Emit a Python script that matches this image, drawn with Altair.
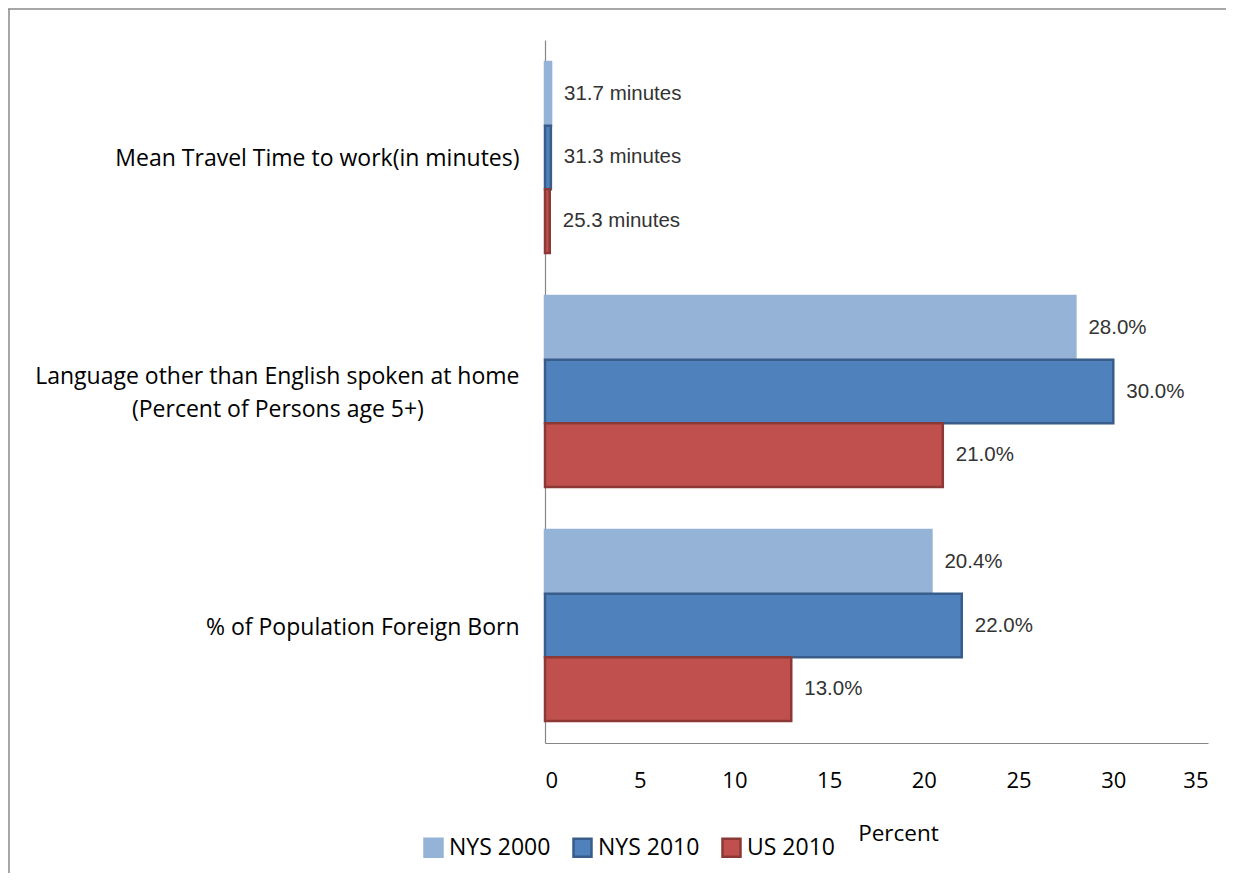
import altair as alt
import pandas as pd

categories = [
    "Mean Travel Time to work(in minutes)",
    "Language other than English spoken at home (Percent of Persons age 5+)",
    "% of Population Foreign Born",
]
series = ["NYS 2000", "NYS 2010", "US 2010"]
nys2000 = [0.32, 28.0, 20.4]
nys2010 = [0.31, 30.0, 22.0]
us2010 = [0.25, 21.0, 13.0]
labels_nys2000 = ["31.7 minutes", "28.0%", "20.4%"]
labels_nys2010 = ["31.3 minutes", "30.0%", "22.0%"]
labels_us2010 = ["25.3 minutes", "21.0%", "13.0%"]
x_ticks = [0, 5, 10, 15, 20, 25, 30, 35]

fill_colors = ["#95B3D7", "#4F81BD", "#C0504D"]
stroke_colors = ["#95B3D7", "#385D8A", "#8C3836"]

rows = []
for s, vals, labs in zip(series, [nys2000, nys2010, us2010],
                         [labels_nys2000, labels_nys2010, labels_us2010]):
    for c, v, l in zip(categories, vals, labs):
        rows.append({"category": c, "series": s, "value": v, "label": l})
df = pd.DataFrame(rows)

FONT = "Open Sans"
pad = "\u00a0" * 16 + "\u200b"
label_expr = (
    "datum.label == '" + categories[1] + "' ? "
    "['Language other than English spoken at home', '(Percent of Persons age 5+)" + pad + "'] : datum.label"
)
two_line_test = "datum.value == '" + categories[1] + "'"

y_enc = alt.Y(
    "category:N",
    sort=categories,
    scale=alt.Scale(paddingInner=0.184, paddingOuter=0.094),
    axis=alt.Axis(
        title=None, ticks=False, labelPadding=26, labelFont=FONT, labelFontSize=23,
        labelColor="#000000", labelLimit=700, labelExpr=label_expr, labelLineHeight=33,
        labelOffset={"condition": {"test": two_line_test, "value": -15}, "value": 2},
        domainColor="#868686", domainWidth=1.2,
    ),
)
yoff = alt.YOffset("series:N", sort=series, scale=alt.Scale(paddingInner=0, paddingOuter=0))
x_enc = alt.X(
    "value:Q",
    scale=alt.Scale(domain=[0, 35], nice=False),
    axis=alt.Axis(
        values=x_ticks, ticks=False, grid=False, labelPadding=27, labelFont=FONT,
        labelFontSize=22, labelColor="#000000", domainColor="#868686", domainWidth=1.2,
        title="Percent", titleFont=FONT, titleFontSize=22.5, titleFontWeight="normal",
        titleColor="#000000", titleX=353, titleY=79,
    ),
)

legend = alt.Legend(
    title=None, orient="none", legendX=-123, legendY=796, direction="horizontal",
    symbolType="square", symbolSize=324, symbolStrokeWidth=2.5, labelFont=FONT,
    labelFontSize=23, labelColor="#000000", columnPadding=17, labelOffset=4,
)

bars = alt.Chart(df).mark_bar(strokeWidth=2.5).encode(
    y=y_enc,
    yOffset=yoff,
    x=x_enc,
    fill=alt.Fill("series:N", sort=series,
                  scale=alt.Scale(domain=series, range=fill_colors), legend=legend),
    stroke=alt.Stroke("series:N", sort=series,
                      scale=alt.Scale(domain=series, range=stroke_colors), legend=legend),
)

texts = alt.Chart(df).mark_text(
    align="left", baseline="middle", dx=13, font="Liberation Sans", fontSize=20.5, color="#333333"
).encode(
    y=alt.Y("category:N", sort=categories),
    yOffset=alt.YOffset("series:N", sort=series),
    x=alt.X("value:Q"),
    text="label:N",
)

frame_df = pd.DataFrame({"k": [0]})
frame_top = alt.Chart(frame_df).mark_rule(color="#8a8a8a", strokeWidth=1.5).encode(
    x=alt.value(-537), x2=alt.value(681), y=alt.value(-31)
)
frame_left = alt.Chart(frame_df).mark_rule(color="#8a8a8a", strokeWidth=1.5).encode(
    x=alt.value(-536), y=alt.value(-31), y2=alt.value(843)
)

chart = alt.layer(bars, texts, frame_top, frame_left).properties(
    width=663,
    height=703,
    background="white",
    autosize=alt.AutoSizeParams(type="none"),
    padding={"left": 537, "top": 32, "right": 18, "bottom": 130},
).configure_view(stroke=None)

chart.save("out.html", embed_options={"renderer": "svg", "actions": False})
